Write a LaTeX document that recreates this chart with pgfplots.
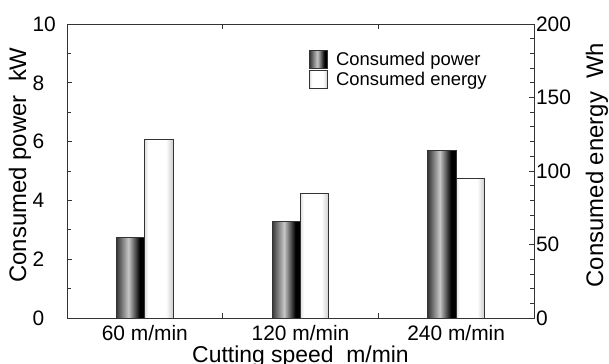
\documentclass[border=0pt]{standalone}
\usepackage{pgfplots}
\pgfplotsset{compat=1.18}
\usepackage{fontspec}
\setmainfont{Liberation Sans}
\pgfdeclarehorizontalshading{powershade}{100bp}{color(0bp)=(black!78); color(25bp)=(black!78); color(46bp)=(black!22); color(66bp)=(black); color(75bp)=(black); color(100bp)=(black)}
\pgfdeclarehorizontalshading{energyshade}{100bp}{color(0bp)=(black!12); color(25bp)=(black!12); color(31bp)=(white); color(62bp)=(white); color(75bp)=(black!20); color(100bp)=(black!20)}
\newcommand\tfs{\fontsize{21}{25}\selectfont}
\newcommand\lfs{\fontsize{24}{28}\selectfont}
\newcommand\xfs{\fontsize{23}{27}\selectfont}
\newcommand\gfs{\fontsize{18.5}{22}\selectfont}
\begin{document}
\begin{tikzpicture}
\pgfplotsset{
  common/.style={width=467bp,height=294bp,scale only axis,
    xmin=-0.5,xmax=2.5,ymin=0,
    tick align=inside, major tick length=5bp, minor tick length=4bp,
    axis line style={black!80,line width=0.8bp},
    every tick/.style={black!80,line width=0.8bp},
    tick label style={font=\tfs}, label style={font=\lfs},
    /pgf/number format/assume math mode=true,
    bar width=28.3bp,
  },
  pstyle/.style={ybar, bar shift=-14.15bp, draw=black!80, line width=0.8bp, shade, shading=powershade, forget plot},
  estyle/.style={ybar, bar shift=14.15bp, draw=black!80, line width=0.8bp, shade, shading=energyshade, forget plot},
}
\begin{axis}[common, ymax=10,
  ytick={0,2,...,10}, minor ytick={1,3,...,9}, ytick pos=left,
  yticklabel style={anchor=west, xshift=-38bp},
  xtick={0.5,1.5}, xticklabels={},
  extra x ticks={0,1,2}, extra x tick labels={60 m/min,120 m/min,240 m/min},
  extra x tick style={major tick length=0pt, tick label style={yshift=-3.5bp}},
  ylabel={Consumed power\ \ kW}, xlabel={Cutting speed\ \ m/min},
  ylabel style={at={(rel axis cs:-0.1007,0.5204)}, anchor=center},
  xlabel style={at={(rel axis cs:0.5,0)}, anchor=north, yshift=-24.5bp, font=\xfs},
  legend style={draw=none, fill=none, at={(rel axis cs:0.512,0.918)}, anchor=north west, font=\gfs, row sep=1bp},
  legend cell align=left,
  legend image code/.code={\draw[#1] (0bp,-9bp) rectangle (18bp,9bp); \path (24bp,0bp);},
]
\addplot[pstyle] coordinates {(0,2.74)};
\addplot[pstyle] coordinates {(1,3.28)};
\addplot[pstyle] coordinates {(2,5.69)};
\addlegendimage{draw=black!80, line width=0.8bp, shade, shading=powershade}
\addlegendentry{Consumed power}
\addlegendimage{draw=black!80, line width=0.8bp, shade, shading=energyshade}
\addlegendentry{Consumed energy}
\coordinate (tl) at (rel axis cs:0,1);
\coordinate (br) at (rel axis cs:1,0);
\end{axis}
\begin{axis}[common, ymax=200,
  axis x line=none, axis y line*=right,
  ytick={0,50,...,200}, minor ytick={10,20,...,190},
  yticklabel style={xshift=-1.5bp},
  ylabel={Consumed energy\ \ Wh},
  ylabel style={at={(rel axis cs:1.1349,0.5204)}, anchor=center},
]
\addplot[estyle] coordinates {(0,121.5)};
\addplot[estyle] coordinates {(1,84.6)};
\addplot[estyle] coordinates {(2,94.8)};
\end{axis}
\pgfresetboundingbox
\path[use as bounding box] ([shift={(-67bp,24bp)}]tl) rectangle ([shift={(75bp,-46bp)}]br);
\end{tikzpicture}
\end{document}
